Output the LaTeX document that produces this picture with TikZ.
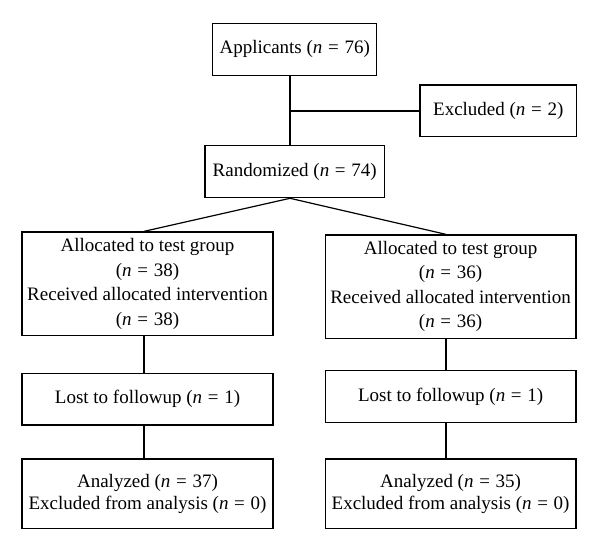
\documentclass[tikz,border=0pt]{standalone}
\usepackage{fontspec}
\setmainfont{Liberation Serif}
\newcommand{\nn}[1]{(\textit{n}\hspace{0.3em}=\hspace{0.3em}#1)}
\begin{document}
\begin{tikzpicture}[x=1pt,y=-1pt,
  box/.style={draw, line width=1.2pt, inner sep=0pt, align=center,
    font=\fontsize{19}{24.5}\selectfont},
  conn/.style={line width=1.2pt}]
\useasboundingbox (0,0) rectangle (600,551);
\node[box, minimum width=164pt, minimum height=52pt] (app) at (294.7,49.3) {Applicants \nn{76}};
\node[box, minimum width=156.7pt, minimum height=51.7pt] (exc) at (498.3,110.8) {Excluded \nn{2}};
\node[box, minimum width=179.3pt, minimum height=52pt] (rand) at (294.7,171.7) {Randomized \nn{74}};
\node[box, minimum width=251pt, minimum height=103.7pt] (l1) at (147.5,283.8) {Allocated to test group\\\nn{38}\\Received allocated intervention\\\nn{38}};
\node[box, minimum width=250.7pt, minimum height=103.3pt] (r1) at (450.6,286.6) {Allocated to test group\\\nn{36}\\Received allocated intervention\\\nn{36}};
\node[box, minimum width=251pt, minimum height=51.7pt] (l2) at (147.5,399.2) {Lost to followup \nn{1}};
\node[box, minimum width=250.7pt, minimum height=51.6pt] (r2) at (450.6,396.5) {Lost to followup \nn{1}};
\node[box, minimum width=251pt, minimum height=69.3pt, font=\fontsize{19}{21.7}\selectfont] (l3) at (147.5,493.7) {Analyzed \nn{37}\\Excluded from analysis \nn{0}};
\node[box, minimum width=250.7pt, minimum height=69.3pt, font=\fontsize{19}{21.7}\selectfont] (r3) at (450.6,493.7) {Analyzed \nn{35}\\Excluded from analysis \nn{0}};
\coordinate (j) at (290,111);
\coordinate (cl) at (144,0);
\coordinate (cr) at (446,0);
\draw[conn] (app.south -| j) -- (rand.north -| j);
\draw[conn] (j) -- (j -| exc.west);
\draw[conn] (rand.south -| j) -- (l1.north -| cl);
\draw[conn] (rand.south -| j) -- (r1.north -| cr);
\draw[conn] (l1.south -| cl) -- (l2.north -| cl);
\draw[conn] (l2.south -| cl) -- (l3.north -| cl);
\draw[conn] (r1.south -| cr) -- (r2.north -| cr);
\draw[conn] (r2.south -| cr) -- (r3.north -| cr);
\end{tikzpicture}
\end{document}
